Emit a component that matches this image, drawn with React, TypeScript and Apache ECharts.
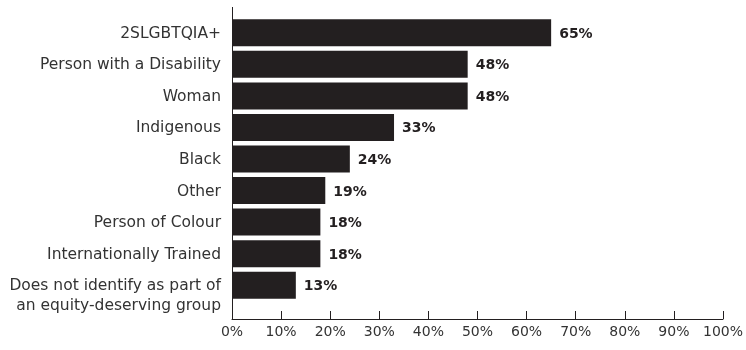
import React, { useEffect, useRef } from "react";
import * as echarts from "echarts";

const categories = [
  "2SLGBTQIA+",
  "Person with a Disability",
  "Woman",
  "Indigenous",
  "Black",
  "Other",
  "Person of Colour",
  "Internationally Trained",
  "Does not identify as part of\nan equity-deserving group",
];
const values = [65, 48, 48, 33, 24, 19, 18, 18, 13];
const xTicks = [0, 10, 20, 30, 40, 50, 60, 70, 80, 90, 100];

const FONT = "'DejaVu Sans', sans-serif";
const DARK = "#231f20";

export default function App() {
  const ref = useRef<HTMLDivElement>(null);
  useEffect(() => {
    if (!ref.current) return;
    const chart = echarts.init(ref.current, null, { renderer: "svg" });
    chart.setOption({
      animation: false,
      grid: { left: 232, right: 21, top: 17, bottom: 49, containLabel: false },
      xAxis: {
        type: "value",
        min: xTicks[0],
        max: xTicks[xTicks.length - 1],
        interval: 10,
        offset: 18,
        axisLine: { show: true, lineStyle: { color: DARK, width: 1 } },
        axisTick: { show: true, inside: true, length: 8, lineStyle: { color: DARK } },
        splitLine: { show: false },
        axisLabel: {
          formatter: "{value}%",
          color: "#333",
          fontFamily: FONT,
          fontSize: 14,
          margin: 5,
        },
      },
      yAxis: {
        type: "category",
        data: [...categories].reverse(),
        axisLine: { show: false },
        axisTick: { show: false },
        axisLabel: {
          interval: 0,
          color: "#333",
          fontFamily: FONT,
          fontSize: 15.5,
          margin: 11,
          lineHeight: 20,
          align: "right",
          formatter: (v: string) => (v.includes("\n") ? "\n" + v : v),
        },
      },
      graphic: [
        {
          type: "line",
          shape: { x1: 232.5, y1: 7, x2: 232.5, y2: 319 },
          style: { stroke: DARK, lineWidth: 1 },
        },
      ],
      series: [
        {
          type: "bar",
          data: [...values].reverse(),
          barWidth: 27,
          itemStyle: { color: DARK },
          label: {
            show: true,
            position: "right",
            distance: 8,
            formatter: "{c}%",
            color: DARK,
            fontFamily: FONT,
            fontWeight: "bold",
            fontSize: 14,
          },
        },
      ],
    });
    return () => chart.dispose();
  }, []);
  return (
    <div
      ref={ref}
      style={{ position: "fixed", left: 0, top: 0, width: 746, height: 350 }}
    />
  );
}
